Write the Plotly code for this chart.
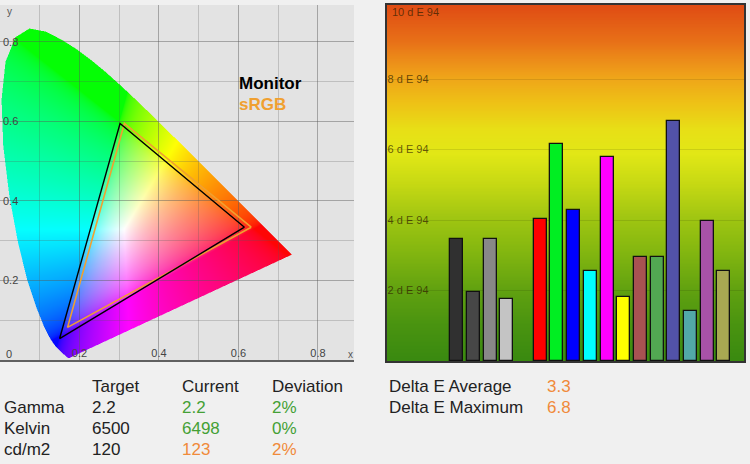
import base64
import struct
import zlib

import numpy as np
import plotly.graph_objects as go

# CIE 1931 spectral locus, 380-700 nm (chromaticity x, y)
locus_x = [0.1741, 0.1738, 0.1733, 0.1726, 0.1714, 0.1689, 0.1644, 0.1566, 0.1440,
           0.1355, 0.1241, 0.1096, 0.0913, 0.0687, 0.0454, 0.0235, 0.0082, 0.0039,
           0.0139, 0.0389, 0.0743, 0.1142, 0.1547, 0.1929, 0.2296, 0.2658, 0.3016,
           0.3373, 0.3731, 0.4087, 0.4441, 0.4788, 0.5125, 0.5448, 0.5752, 0.6029,
           0.6270, 0.6482, 0.6658, 0.6915, 0.7079, 0.7190, 0.7260, 0.7300, 0.7334,
           0.7347]
locus_y = [0.0050, 0.0049, 0.0048, 0.0048, 0.0051, 0.0069, 0.0109, 0.0177, 0.0297,
           0.0399, 0.0578, 0.0868, 0.1327, 0.2007, 0.2950, 0.4127, 0.5384, 0.6548,
           0.7502, 0.8120, 0.8338, 0.8262, 0.8059, 0.7816, 0.7543, 0.7243, 0.6923,
           0.6589, 0.6245, 0.5896, 0.5547, 0.5202, 0.4866, 0.4544, 0.4242, 0.3965,
           0.3725, 0.3514, 0.3340, 0.3083, 0.2920, 0.2809, 0.2740, 0.2700, 0.2666,
           0.2653]

# gamut triangles (red, green, blue primaries)
monitor_x = [0.615, 0.302, 0.150]
monitor_y = [0.334, 0.595, 0.054]
srgb_x = [0.632, 0.313, 0.170]
srgb_y = [0.334, 0.595, 0.082]

# delta E per patch
gray_patches = ["Black", "Dark gray", "Gray", "Light gray"]
gray_de = [3.45, 1.97, 3.45, 1.77]
gray_colors = ["#303030", "#474747", "#888888", "#c4c4c4"]

color_patches = ["Red", "Green", "Blue", "Cyan", "Magenta", "Yellow",
                 "Dull red", "Dull green", "Dull blue", "Dull cyan", "Dull magenta", "Dull yellow"]
color_de = [4.04, 6.16, 4.27, 2.55, 5.78, 1.83, 2.94, 2.94, 6.80, 1.43, 3.96, 2.55]
color_colors = ["#ff0000", "#00ee22", "#0000ff", "#00ffff", "#ff00ff", "#ffff00",
                "#a85252", "#52a852", "#5252a8", "#52a8a8", "#a852a8", "#a8a852"]

de_ticks = [2, 4, 6, 8]
de_ticktext = ["2 d E 94", "4 d E 94", "6 d E 94", "8 d E 94"]
de_top_label = "10 d E 94"

# summary table
table_cols = ["Target", "Current", "Deviation"]
table_rows = ["Gamma", "Kelvin", "cd/m2"]
target = ["2.2", "6500", "120"]
current = ["2.2", "6498", "123"]
deviation = ["2%", "0%", "2%"]
row_ok = [True, True, False]
de_labels = ["Delta E Average", "Delta E Maximum"]
de_values = ["3.3", "6.8"]

GREEN = "#44a035"
ORANGE = "#f08a3a"
FONT = "Liberation Sans, Arial, sans-serif"
TICK_DE = "rgba(50,30,0,0.72)"

W, H = 750, 464
XR = 0.8906  # left chart x range
YR = 0.893   # left chart y range


def png_uri(rgba):
    h, w = rgba.shape[:2]
    raw = b"".join(b"\x00" + rgba[i].tobytes() for i in range(h))

    def chunk(tag, data):
        c = struct.pack(">I", len(data)) + tag + data
        return c + struct.pack(">I", zlib.crc32(tag + data) & 0xffffffff)

    png = (b"\x89PNG\r\n\x1a\n"
           + chunk(b"IHDR", struct.pack(">IIBBBBB", w, h, 8, 6, 0, 0, 0))
           + chunk(b"IDAT", zlib.compress(raw, 9))
           + chunk(b"IEND", b""))
    return "data:image/png;base64," + base64.b64encode(png).decode()


# --- horseshoe fill, coloured by chromaticity ---
nw, nh = 708, 710
gx = (np.arange(nw) + 0.5) / nw * XR
gy = YR - (np.arange(nh) + 0.5) / nh * YR
xx, yy = np.meshgrid(gx, gy)

px = np.array(locus_x)
py = np.array(locus_y)
inside = np.zeros(xx.shape, dtype=bool)
j = len(px) - 1
for i in range(len(px)):
    cond = (py[i] > yy) != (py[j] > yy)
    xcross = (px[j] - px[i]) * (yy - py[i]) / (py[j] - py[i] + 1e-12) + px[i]
    inside ^= cond & (xx < xcross)
    j = i

ys = np.maximum(yy, 1e-4)
X = xx / ys
Y = np.ones_like(xx)
Z = (1 - xx - yy) / ys
M = np.array([[3.2406, -1.5372, -0.4986],
              [-0.9689, 1.8758, 0.0415],
              [0.0557, -0.2040, 1.0570]])
rgb = np.einsum("ij,jhw->hwi", M, np.stack([X, Y, Z]))
rgb = np.clip(rgb, 0, None)
rgb = rgb / np.maximum(rgb.max(axis=2, keepdims=True), 1e-9)
rgb = np.where(rgb <= 0.0031308, 12.92 * rgb, 1.055 * rgb ** (1 / 2.4) - 0.055)
img = np.zeros((nh, nw, 4), dtype=np.uint8)
img[..., :3] = np.clip(rgb * 255, 0, 255).astype(np.uint8)
img[..., 3] = np.where(inside, 250, 0).astype(np.uint8)
gamut_src = png_uri(img)

# --- vertical background gradient for the delta E chart ---
stops = [(0.0, (58, 138, 16)), (0.1, (74, 148, 16)), (0.2, (98, 162, 16)),
         (0.3, (130, 182, 16)), (0.4, (160, 198, 18)), (0.5, (200, 218, 20)),
         (0.58, (226, 232, 22)), (0.65, (232, 224, 22)), (0.72, (238, 196, 22)),
         (0.8, (240, 164, 26)), (0.9, (232, 112, 24)), (1.0, (224, 76, 20))]
gh = 256
t = 1 - (np.arange(gh) + 0.5) / gh
grad = np.zeros((gh, 4, 4), dtype=np.uint8)
for c in range(3):
    grad[:, :, c] = np.interp(t, [s[0] for s in stops], [s[1][c] for s in stops])[:, None]
grad[:, :, 3] = 255
grad_src = png_uri(grad)

gray_pos = [4 + i for i in range(len(gray_de))]
color_pos = [gray_pos[-1] + 2 + i for i in range(len(color_de))]
X2R = [-0.17, 21.2]
Y2R = [0, 10.1]

fig = go.Figure()

fig.add_trace(go.Scatter(x=srgb_x + srgb_x[:1], y=srgb_y + srgb_y[:1], mode="lines",
                         line=dict(color="#f0a030", width=1.6), name="sRGB"))
fig.add_trace(go.Scatter(x=monitor_x + monitor_x[:1], y=monitor_y + monitor_y[:1], mode="lines",
                         line=dict(color="#000000", width=1.4), name="Monitor"))

fig.add_trace(go.Bar(x=gray_pos + color_pos, y=gray_de + color_de,
                     marker=dict(color=gray_colors + color_colors,
                                 line=dict(color="#111111", width=1.3)),
                     width=0.78, xaxis="x2", yaxis="y2",
                     hovertext=gray_patches + color_patches))

annotations = [
    dict(text="<b>Monitor</b>", x=237 / W, y=1 - 83 / H,
         font=dict(size=17, color="black", family=FONT), xanchor="left"),
    dict(text="<b>sRGB</b>", x=237 / W, y=1 - 104 / H,
         font=dict(size=17, color="#f0a030", family=FONT), xanchor="left"),
    dict(text="y", x=5 / W, y=1 - 12 / H, font=dict(size=10, color="#555555", family=FONT),
         xanchor="left"),
    dict(text="x", x=350 / W, y=1 - 354 / H, font=dict(size=10, color="#555555", family=FONT)),
    dict(text="0", x=4 / W, y=1 - 354 / H, font=dict(size=11, color="#444444", family=FONT),
         xanchor="left"),
    dict(text=de_top_label, x=390 / W, y=1 - 12 / H, xanchor="left",
         font=dict(size=11, color=TICK_DE, family=FONT)),
]

col_x = [90, 180, 270]
row_y = [407, 428, 449]
for k, name in enumerate(table_cols):
    annotations.append(dict(text=name, x=col_x[k] / W, y=1 - 386 / H, xanchor="left",
                            font=dict(size=17, color="#222222", family=FONT)))
for r, name in enumerate(table_rows):
    tone = GREEN if row_ok[r] else ORANGE
    cells = [(name, 2, "#222222"), (target[r], col_x[0], "#222222"),
             (current[r], col_x[1], tone), (deviation[r], col_x[2], tone)]
    for text, cx, color in cells:
        annotations.append(dict(text=text, x=cx / W, y=1 - row_y[r] / H, xanchor="left",
                                font=dict(size=17, color=color, family=FONT)))
for r, name in enumerate(de_labels):
    annotations.append(dict(text=name, x=387 / W, y=1 - (386 + 21 * r) / H, xanchor="left",
                            font=dict(size=17, color="#222222", family=FONT)))
    annotations.append(dict(text=de_values[r], x=545 / W, y=1 - (386 + 21 * r) / H, xanchor="left",
                            font=dict(size=17, color=ORANGE, family=FONT)))
for a in annotations:
    a.update(xref="paper", yref="paper", showarrow=False, yanchor="middle")

grid = "rgba(90,90,90,0.26)"
fig.update_layout(
    width=W, height=H,
    margin=dict(l=0, r=0, t=0, b=0),
    paper_bgcolor="#f0f0f0",
    plot_bgcolor="#e3e3e3",
    showlegend=False,
    bargap=0,
    font=dict(family=FONT),
    xaxis=dict(domain=[0, 354 / W], range=[0, XR], tickvals=[0.2, 0.4, 0.6, 0.8],
               ticktext=["0.2", "0.4", "0.6", "0.8"], ticklabelposition="inside",
               tickfont=dict(size=11, color="#444444"), ticks="",
               showgrid=True, gridcolor=grid, gridwidth=1,
               minor=dict(tickmode="linear", tick0=0, dtick=0.1, showgrid=True, gridcolor=grid),
               showline=True, linecolor="#606060", linewidth=1.5, zeroline=False),
    yaxis=dict(domain=[1 - 360 / H, 1 - 5 / H], range=[0, YR], tickvals=[0.2, 0.4, 0.6, 0.8],
               ticktext=["0.2", "0.4", "0.6", "0.8"], ticklabelposition="inside",
               tickfont=dict(size=11, color="#444444"), ticks="",
               showgrid=True, gridcolor=grid, gridwidth=1,
               minor=dict(tickmode="linear", tick0=0, dtick=0.1, showgrid=True, gridcolor=grid),
               showline=False, zeroline=False),
    xaxis2=dict(domain=[387 / W, 744 / W], range=X2R, anchor="y2", showticklabels=False,
                showgrid=False, zeroline=False, showline=True, mirror=True,
                linecolor="#333333", linewidth=1.5),
    yaxis2=dict(domain=[1 - 361 / H, 1 - 5 / H], range=Y2R, anchor="x2",
                tickvals=de_ticks, ticktext=de_ticktext, ticklabelposition="inside",
                tickfont=dict(size=11, color=TICK_DE), ticks="",
                showgrid=True, gridcolor="rgba(0,0,0,0.10)", zeroline=False,
                showline=True, mirror=True, linecolor="#333333", linewidth=1.5),
    images=[
        dict(source=gamut_src, xref="x", yref="y", x=0, y=YR, sizex=XR, sizey=YR,
             xanchor="left", yanchor="top", sizing="stretch", layer="below"),
        dict(source=grad_src, xref="x2", yref="y2", x=X2R[0], y=Y2R[1],
             sizex=X2R[1] - X2R[0], sizey=Y2R[1] - Y2R[0],
             xanchor="left", yanchor="top", sizing="stretch", layer="below"),
    ],
    annotations=annotations,
)

fig.write_html("out.html", config={"displayModeBar": False},
               post_script="document.body.style.margin='0';")
